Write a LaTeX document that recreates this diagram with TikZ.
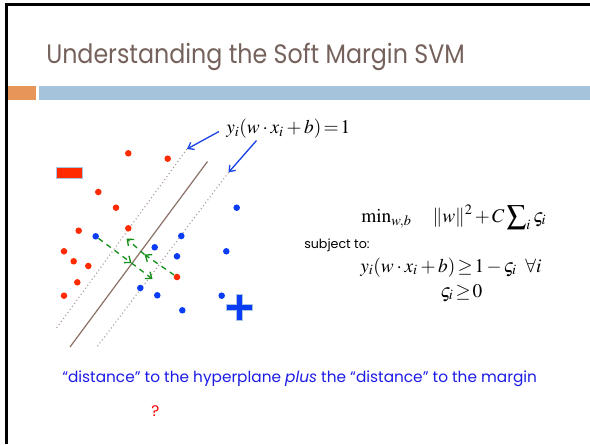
\documentclass[tikz,border=0pt]{standalone}
\usepackage{mathptmx}
\usepackage{fontspec}
\newfontfamily\gothic{Poppins}
\usetikzlibrary{arrows.meta}
\definecolor{titlebrown}{HTML}{76625C}
\definecolor{barorange}{HTML}{E8955A}
\definecolor{barblue}{HTML}{A5C3DB}
\definecolor{ptred}{HTML}{FF2A00}
\definecolor{ptblue}{HTML}{0A3CF5}
\definecolor{lineb}{HTML}{8B7167}
\definecolor{dotb}{HTML}{A89890}
\definecolor{arrblue}{HTML}{1E46E6}
\definecolor{gdash}{HTML}{16901A}
\definecolor{txtblue}{HTML}{1C1CE6}
\definecolor{edgeblue}{HTML}{A8C4E4}
\tikzset{
  rdot/.style={circle,fill=ptred,inner sep=0pt,minimum size=4.9pt},
  bdot/.style={circle,fill=ptblue,inner sep=0pt,minimum size=4.9pt},
  margin/.style={dotb,line width=0.8pt,dotted},
  hyper/.style={lineb,line width=0.9pt},
  labarrow/.style={arrblue,line width=1pt,-{Straight Barb[length=4pt,width=6pt]}},
  garrow/.style={gdash,line width=1pt,dash pattern=on 4pt off 3.5pt,-{Straight Barb[length=4pt,width=6.5pt]}},
  mathtxt/.style={anchor=base west,inner sep=0pt,font=\fontsize{14.5}{17}\selectfont},
}
\begin{document}
\begin{tikzpicture}[x=0.75pt,y=-0.75pt]
\useasboundingbox (0,0) rectangle (590,444);
\fill[white] (0,0) rectangle (590,444);
% frame
\draw[black,line width=1.6pt] (6.5,444) -- (6.5,4.5) -- (590,4.5);
% title
\node[anchor=base west,inner sep=0pt,text=titlebrown,font=\gothic\fontsize{20}{24}\selectfont] (title) at (46,63) {\scalebox{0.89}[1]{Understanding the Soft Margin SVM}};
% bars
\fill[barorange] (7.5,86) rectangle (36,100);
\fill[barblue] (39,86) rectangle (590,100);
% lines
\coordinate (Ltop) at (187,149); \coordinate (Lbot) at (55.5,329.5);
\coordinate (Htop) at (207.5,161.5); \coordinate (Hbot) at (70,347);
\coordinate (Rtop) at (228.5,172.5); \coordinate (Rbot) at (97,347);
\draw[margin] (Ltop) -- (Lbot);
\draw[hyper] (Htop) -- (Hbot);
\draw[margin] (Rtop) -- (Rbot);
% red points
\node[rdot] (r1) at (128.3,153.3) {};
\node[rdot] (r2) at (167.7,158.7) {};
\node[rdot] (r3) at (98.3,192) {};
\node[rdot] (r4) at (116,207.7) {};
\node[rdot] (r5) at (78.7,230.7) {};
\node[rdot] (r6) at (128.3,228.3) {};
\node[rdot] (r7) at (64,251.3) {};
\node[rdot] (r8) at (73.7,261.3) {};
\node[rdot] (r9) at (88.3,266) {};
\node[rdot] (r10) at (77.3,282.3) {};
\node[rdot] (r11) at (64,295.7) {};
\node[rdot] (r12) at (177,277) {};
% blue points
\node[bdot] (b1) at (95.7,236.3) {};
\node[bdot] (b2) at (181.3,236) {};
\node[bdot] (b3) at (154.7,247.3) {};
\node[bdot] (b4) at (177,256.3) {};
\node[bdot] (b5) at (236.7,207.7) {};
\node[bdot] (b6) at (226.3,251.3) {};
\node[bdot] (b7) at (140.3,288) {};
\node[bdot] (b8) at (157.3,295.3) {};
\node[bdot] (b9) at (182.3,310.3) {};
\node[bdot] (b10) at (221.7,295.7) {};
% minus and plus
\node[draw=edgeblue,fill=ptred,line width=0.6pt,inner sep=0pt,minimum width=25.6*0.75pt,minimum height=11*0.75pt] (minus) at (69.5,173.2) {};
\draw[edgeblue,fill=ptblue,line width=0.6pt] (236.5,294) -- (242.2,294) -- (242.2,304.5) -- (252.3,304.5) -- (252.3,310.2) -- (242.2,310.2) -- (242.2,320.5) -- (236.5,320.5) -- (236.5,310.2) -- (226.7,310.2) -- (226.7,304.5) -- (236.5,304.5) -- cycle;
\coordinate (plus) at (239.4,307.3);
% green arrows
\coordinate (g1) at (131.5,263);
\coordinate (g2) at (152.5,279);
\coordinate (g3) at (144.5,254.5);
\coordinate (g4) at (126.5,238.5);
\draw[garrow] (b1) -- (g1);
\draw[garrow] (g1) -- (g2);
\draw[garrow] (r12) -- (g3);
\draw[garrow] (g3) -- (g4);
% label
\node[mathtxt] (lab) at (226,133.5) {$y_i(w\cdot x_i+b)\,{=}\,1$};
\coordinate (a1s) at (219,131.5);
\coordinate (a2s) at (256.5,140.5);
\draw[labarrow] (a1s) -- (Ltop);
\draw[labarrow] (a2s) -- (Rtop);
% formula
\node[mathtxt] (obj) at (361,222) {$\min\nolimits_{w,b}\ \ \ \|w\|^2\,{+}\,C\displaystyle\sum\nolimits_i\varsigma_i$};
\node[anchor=base west,inner sep=0pt,font=\gothic\fontsize{9.5}{11}\selectfont] (subj) at (304,248) {subject to:};
\node[mathtxt] (c1) at (360,272) {$y_i(w\cdot x_i+b)\,{\geq}\,1\,{-}\,\varsigma_i\;\;\forall i$};
\node[mathtxt] (c2) at (440,297) {$\varsigma_i\,{\geq}\,0$};
% bottom text
\node[anchor=base west,inner sep=0pt,text=txtblue,font=\gothic\fontsize{11.5}{14}\selectfont] (dist) at (62,382) {“distance” to the hyperplane \textit{plus} the “distance” to the margin};
\node[anchor=base,inner sep=0pt,text=red,font=\gothic\fontsize{11.5}{14}\selectfont] (q) at (155.5,416) {?};
\end{tikzpicture}
\end{document}
